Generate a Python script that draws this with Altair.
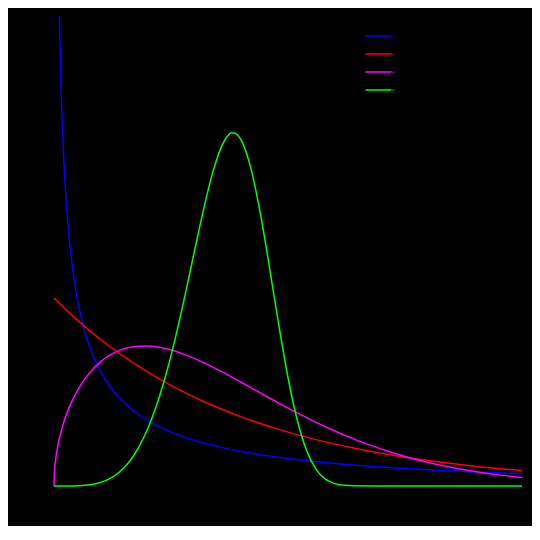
import altair as alt
import pandas as pd

labels = ["λ=1, k=0.5", "λ=1, k=1", "λ=1, k=1.5", "λ=1, k=5"]
colors = ["#0000ff", "#ff0000", "#ff00ff", "#00ff00"]

blue_x = [0.0285, 0.03, 0.04, 0.05, 0.06, 0.07, 0.08, 0.1, 0.12, 0.15, 0.2, 0.25, 0.3, 0.4, 0.5,
          0.6, 0.7, 0.8, 0.9, 1.0, 1.2, 1.4, 1.6, 1.8, 2.0, 2.2, 2.4, 2.5]
blue_y = [2.50, 2.428, 2.047, 1.788, 1.598, 1.450, 1.332, 1.153, 1.021, 0.876, 0.715, 0.607, 0.528,
          0.420, 0.349, 0.2975, 0.2588, 0.2286, 0.2041, 0.1839, 0.1526, 0.1294, 0.1116, 0.0974, 0.0860,
          0.0765, 0.0685, 0.0651]

red_x = [0.0, 0.1, 0.2, 0.3, 0.4, 0.5, 0.6, 0.7, 0.8, 0.9, 1.0, 1.2, 1.4, 1.6, 1.8, 2.0, 2.2, 2.4, 2.5]
red_y = [1.0, 0.9048, 0.8187, 0.7408, 0.6703, 0.6065, 0.5488, 0.4966, 0.4493, 0.4066, 0.3679, 0.3012,
         0.2466, 0.2019, 0.1653, 0.1353, 0.1108, 0.0907, 0.0821]

magenta_x = [0.0, 0.002, 0.005, 0.01, 0.02, 0.05, 0.1, 0.15, 0.2, 0.25, 0.3, 0.35, 0.4, 0.45, 0.5, 0.6,
             0.7, 0.8, 0.9, 1.0, 1.1, 1.2, 1.3, 1.4, 1.5, 1.6, 1.7, 1.8, 1.9, 2.0, 2.1, 2.2, 2.3, 2.4, 2.5]
magenta_y = [0.0, 0.067, 0.106, 0.1499, 0.2115, 0.3317, 0.4596, 0.5482, 0.6134, 0.6619, 0.6971, 0.7215,
             0.7367, 0.7440, 0.7448, 0.7300, 0.6987, 0.6561, 0.6059, 0.5518, 0.4963, 0.4413, 0.3886,
             0.3387, 0.2926, 0.2507, 0.2132, 0.1799, 0.1507, 0.1254, 0.1037, 0.0852, 0.0696, 0.0565, 0.0455]

green_x = [0.0, 0.1, 0.2, 0.3, 0.35, 0.4, 0.45, 0.5, 0.55, 0.6, 0.65, 0.7, 0.75, 0.8, 0.85, 0.9, 0.925,
           0.95, 0.975, 1.0, 1.05, 1.1, 1.15, 1.2, 1.25, 1.3, 1.35, 1.4, 1.45, 1.5, 1.55, 1.6, 1.7, 2.0, 2.5]
green_y = [0.0, 0.0005, 0.008, 0.0404, 0.0746, 0.1267, 0.2013, 0.3029, 0.4351, 0.5995, 0.7947, 1.0150,
           1.2479, 1.4757, 1.6748, 1.8175, 1.8595, 1.8787, 1.872, 1.8394, 1.6962, 1.4627, 1.1700, 0.8606,
           0.5772, 0.3486, 0.1875, 0.0887, 0.0364, 0.0127, 0.0038, 0.0009, 0.0, 0.0, 0.0]

rows = []
for lab, xs, ys in zip(labels, [blue_x, red_x, magenta_x, green_x], [blue_y, red_y, magenta_y, green_y]):
    for i, (x, y) in enumerate(zip(xs, ys)):
        rows.append({"series": lab, "x": x, "y": y, "i": i})
df = pd.DataFrame(rows)

chart = alt.Chart(df).mark_line(clip=False, strokeWidth=1.5, interpolate="monotone").encode(
    x=alt.X("x:Q", scale=alt.Scale(domain=[0, 2.5], nice=False),
            axis=alt.Axis(title="x", domainColor="black", tickColor="black", labelColor="black",
                          titleColor="black", grid=False)),
    y=alt.Y("y:Q", scale=alt.Scale(domain=[0, 2.5], nice=False),
            axis=alt.Axis(title="f(x)", domainColor="black", tickColor="black", labelColor="black",
                          titleColor="black", grid=False)),
    color=alt.Color("series:N", scale=alt.Scale(domain=labels, range=colors),
                    legend=alt.Legend(title=None, orient="none", legendX=320, legendY=14,
                                      symbolType="M-2.9,0H2.9", symbolSize=100, symbolStrokeWidth=1.5,
                                      rowPadding=7, labelColor="black", labelFontSize=11)),
    order="i:Q",
).properties(
    width=468, height=470,
    background="black",
    autosize=alt.AutoSizeParams(type="none"),
    padding={"left": 46, "top": 8, "right": 10, "bottom": 40},
).configure_view(stroke=None)

chart.save("out.html", embed_options={"renderer": "svg", "actions": False})
